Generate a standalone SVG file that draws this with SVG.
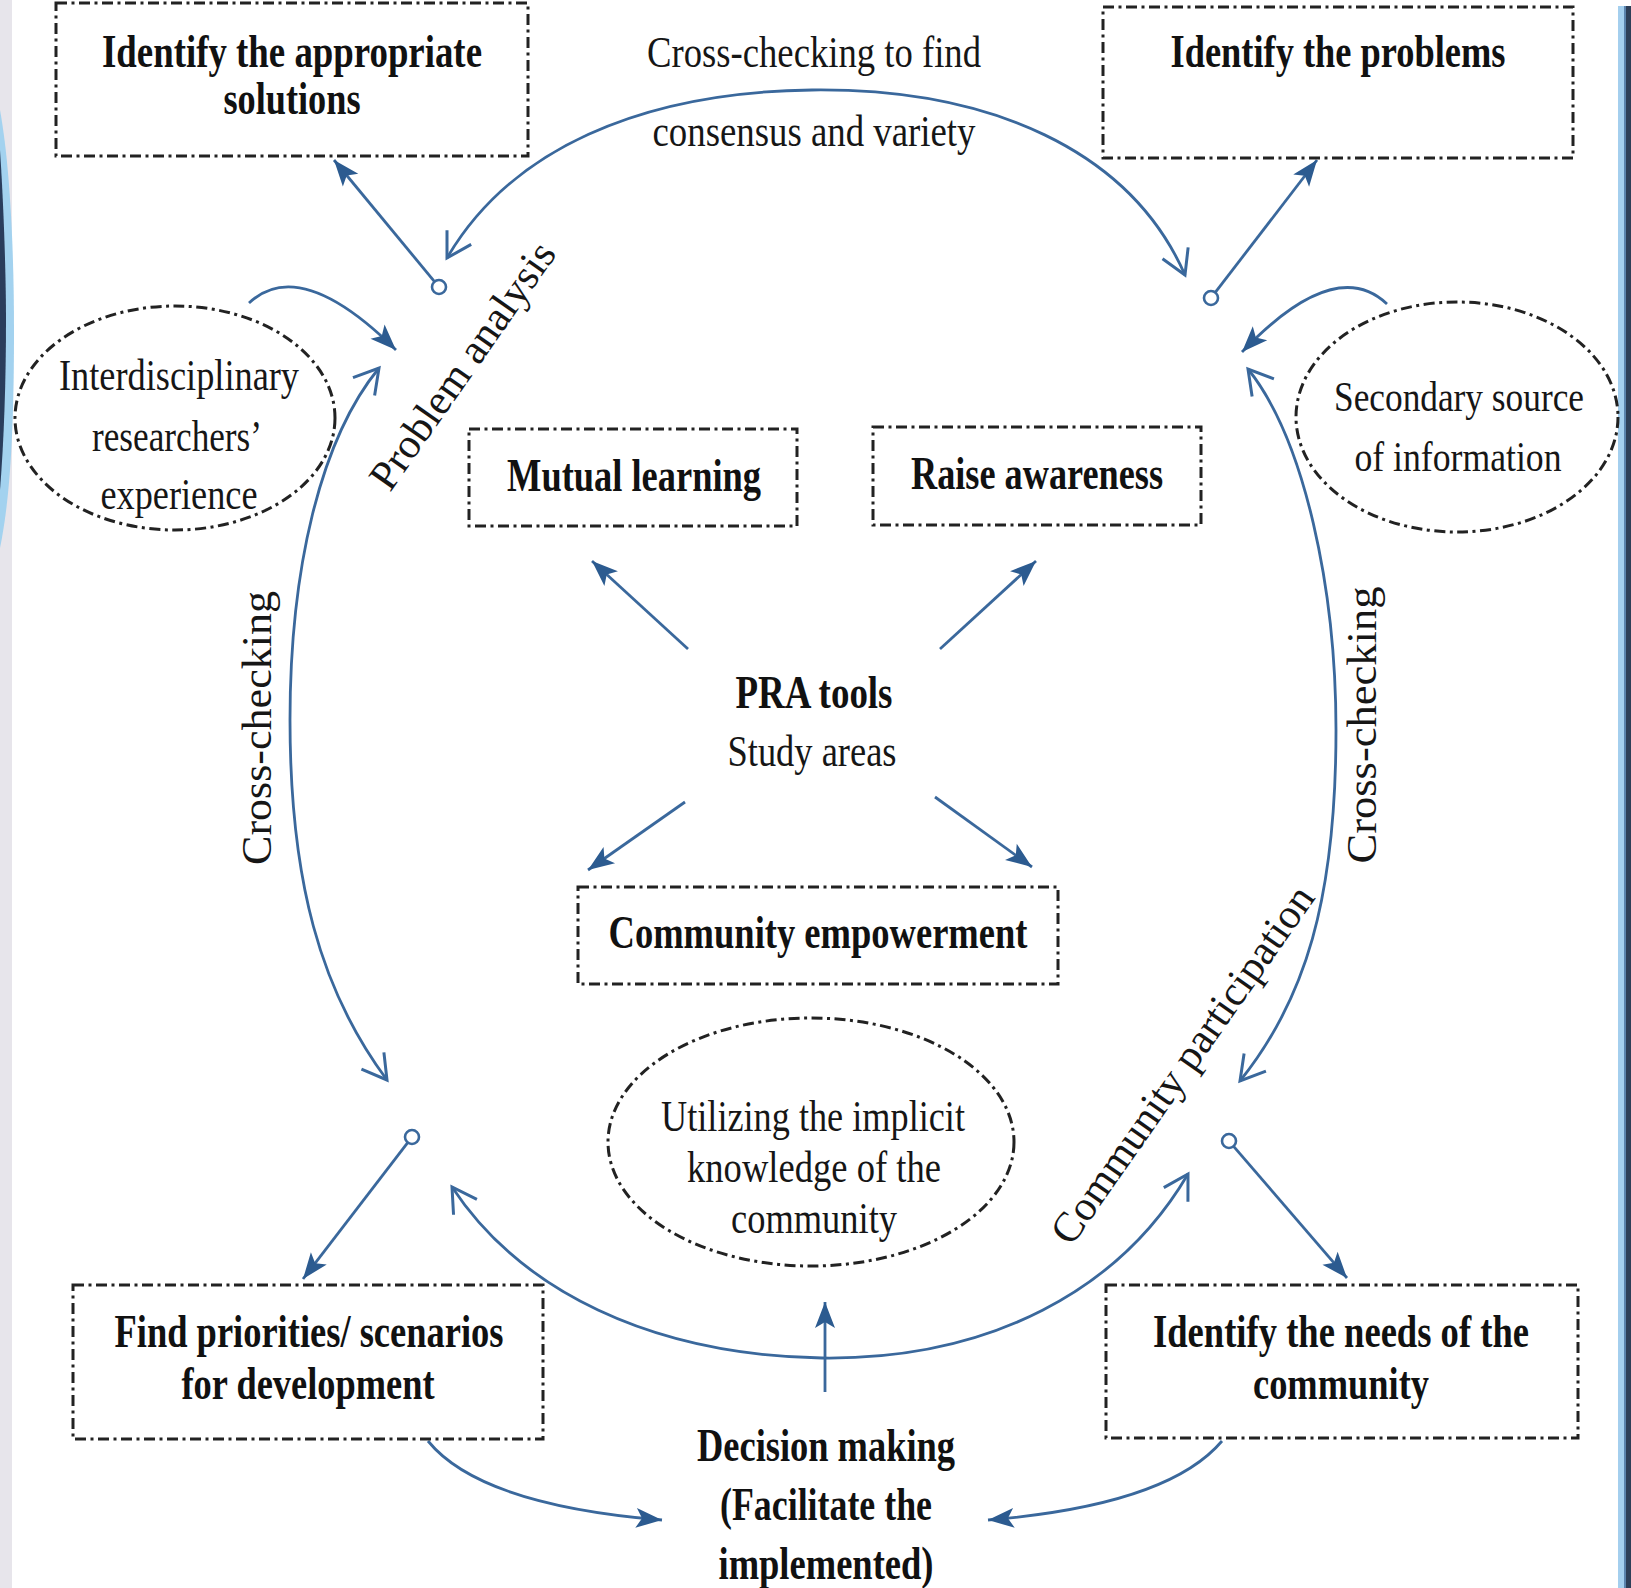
<svg xmlns="http://www.w3.org/2000/svg" width="1631" height="1588" viewBox="0 0 1631 1588">
<defs>
<style>
.box{fill:none;stroke:#222;stroke-width:3;stroke-dasharray:11 4.5 3 4.5}
.b{font-family:"Liberation Serif","Times New Roman",serif;font-weight:bold;font-size:46px;fill:#111;text-anchor:middle}
.r{font-family:"Liberation Serif","Times New Roman",serif;font-size:44px;fill:#161616;text-anchor:middle}
.rs{font-family:"Liberation Serif","Times New Roman",serif;font-size:42px;fill:#161616;text-anchor:middle}
.rl{font-family:"Liberation Serif","Times New Roman",serif;font-size:42px;fill:#161616;text-anchor:middle}
.arc{fill:none;stroke:#3a689c;stroke-width:2.8;marker-start:url(#open);marker-end:url(#open)}
.ln{fill:none;stroke:#3a689c;stroke-width:2.8;marker-end:url(#solid)}
.dot{fill:#fff;stroke:#3a689c;stroke-width:2.6}
</style>
<marker id="open" markerUnits="userSpaceOnUse" markerWidth="40" markerHeight="40" viewBox="-30 -20 40 40" refX="0" refY="0" orient="auto-start-reverse">
<path d="M-24,-14 L0,0 L-24,14" fill="none" stroke="#3a689c" stroke-width="3"/>
</marker>
<marker id="solid" markerUnits="userSpaceOnUse" markerWidth="40" markerHeight="40" viewBox="-30 -20 40 40" refX="0" refY="0" orient="auto">
<path d="M0,0 L-26,-10 L-20,0 L-26,10 Z" fill="#2c5b90"/>
</marker>
</defs>
<rect width="1631" height="1588" fill="#fff"/>
<g id="frame">
<rect x="0" y="0" width="12" height="1588" fill="#e7e5eb"/>
<path d="M0,110 C10,165 14,250 14,330 C14,420 11,495 0,548 Z" fill="#a3d2ef"/>
<path d="M0,150 C4,210 6,280 6,320 C6,380 4,440 0,490 Z" fill="#2a3d5c"/>
<rect x="1618" y="6" width="6" height="1582" fill="#a4cfee"/>
<rect x="1624" y="6" width="2" height="1582" fill="#5b84ad"/>
<rect x="1626" y="6" width="5" height="1582" fill="#2d3f58"/>
</g>
<g id="connectors">
<path class="arc" d="M447,258 C510,150 640,92 812,90 C990,88 1130,150 1185,275"/>
<path class="arc" d="M379,368 C320,440 290,570 290,720 C290,880 320,990 387,1080"/>
<path class="arc" d="M1248,369 C1305,440 1336,590 1336,730 C1336,900 1305,1000 1240,1081"/>
<path class="arc" d="M452,1187 C520,1290 650,1355 822,1358 C990,1360 1120,1290 1188,1174"/>
<line class="ln" x1="434.5" y1="281.6" x2="334" y2="160"/>
<line class="ln" x1="1215.3" y1="292.4" x2="1317" y2="160"/>
<line class="ln" x1="407.7" y1="1142.6" x2="303" y2="1279"/>
<line class="ln" x1="1233.6" y1="1146.3" x2="1347" y2="1278"/>
<path class="ln" d="M249,303 Q300,255 396,350"/>
<path class="ln" d="M1387,304 Q1335,255 1242,352"/>
<line class="ln" x1="688" y1="649" x2="592" y2="561"/>
<line class="ln" x1="940" y1="649" x2="1036" y2="561"/>
<line class="ln" x1="685" y1="802" x2="588" y2="870"/>
<line class="ln" x1="935" y1="797" x2="1032" y2="867"/>
<line class="ln" x1="825" y1="1392" x2="825" y2="1302"/>
<path class="ln" d="M428,1441 Q480,1505 662,1520"/>
<path class="ln" d="M1222,1441 Q1168,1505 988,1520"/>
<circle class="dot" cx="439" cy="287" r="7"/>
<circle class="dot" cx="1211" cy="298" r="7"/>
<circle class="dot" cx="412" cy="1137" r="7"/>
<circle class="dot" cx="1229" cy="1141" r="7"/>
</g>
<g id="label-top">
<text class="r" x="814" y="67" textLength="334" lengthAdjust="spacingAndGlyphs">Cross-checking to find</text>
<text class="r" x="814" y="146" textLength="323" lengthAdjust="spacingAndGlyphs">consensus and variety</text>
</g>
<g id="label-problem-analysis">
<text class="rl" transform="translate(463,366) rotate(-55)" y="13" textLength="292" lengthAdjust="spacingAndGlyphs">Problem analysis</text>
</g>
<g id="label-community-participation">
<text class="rl" transform="translate(1183,1065) rotate(-55)" y="13" textLength="427" lengthAdjust="spacingAndGlyphs">Community participation</text>
</g>
<g id="label-cross-left">
<text class="rl" transform="translate(258,728) rotate(-90)" y="13" textLength="274" lengthAdjust="spacingAndGlyphs">Cross-checking</text>
</g>
<g id="label-cross-right">
<text class="rl" transform="translate(1363,725) rotate(-90)" y="13" textLength="277" lengthAdjust="spacingAndGlyphs">Cross-checking</text>
</g>
<g id="node-solutions">
<rect class="box" x="56" y="3" width="472" height="153"/>
<text class="b" x="292" y="67" textLength="380" lengthAdjust="spacingAndGlyphs">Identify the appropriate</text>
<text class="b" x="292" y="114" textLength="137" lengthAdjust="spacingAndGlyphs">solutions</text>
</g>
<g id="node-problems">
<rect class="box" x="1103" y="7" width="470" height="151"/>
<text class="b" x="1338" y="67" textLength="335" lengthAdjust="spacingAndGlyphs">Identify the problems</text>
</g>
<g id="node-interdisciplinary">
<ellipse class="box" cx="175" cy="418" rx="160" ry="112"/>
<text class="r" x="179" y="390" textLength="240" lengthAdjust="spacingAndGlyphs">Interdisciplinary</text>
<text class="r" x="177" y="451" textLength="170" lengthAdjust="spacingAndGlyphs">researchers’</text>
<text class="r" x="179" y="509" textLength="157" lengthAdjust="spacingAndGlyphs">experience</text>
</g>
<g id="node-secondary">
<ellipse class="box" cx="1457" cy="417" rx="161" ry="115"/>
<text class="rs" x="1459" y="411" textLength="250" lengthAdjust="spacingAndGlyphs">Secondary source</text>
<text class="rs" x="1458" y="471" textLength="207" lengthAdjust="spacingAndGlyphs">of information</text>
</g>
<g id="node-mutual">
<rect class="box" x="469" y="429" width="328" height="97"/>
<text class="b" x="634" y="491" textLength="254" lengthAdjust="spacingAndGlyphs">Mutual learning</text>
</g>
<g id="node-raise">
<rect class="box" x="873" y="427" width="328" height="98"/>
<text class="b" x="1037" y="489" textLength="252" lengthAdjust="spacingAndGlyphs">Raise awareness</text>
</g>
<g id="node-pra">
<text class="b" x="814" y="708" textLength="157" lengthAdjust="spacingAndGlyphs">PRA tools</text>
<text class="r" x="812" y="766" textLength="169" lengthAdjust="spacingAndGlyphs">Study areas</text>
</g>
<g id="node-empowerment">
<rect class="box" x="578" y="887" width="480" height="97"/>
<text class="b" x="818" y="948" textLength="419" lengthAdjust="spacingAndGlyphs">Community empowerment</text>
</g>
<g id="node-implicit">
<ellipse class="box" cx="811" cy="1142" rx="203" ry="124"/>
<text class="r" x="813" y="1131" textLength="304" lengthAdjust="spacingAndGlyphs">Utilizing the implicit</text>
<text class="r" x="814" y="1182" textLength="254" lengthAdjust="spacingAndGlyphs">knowledge of the</text>
<text class="r" x="814" y="1233" textLength="166" lengthAdjust="spacingAndGlyphs">community</text>
</g>
<g id="node-priorities">
<rect class="box" x="73" y="1285" width="470" height="154"/>
<text class="b" x="309" y="1347" textLength="389" lengthAdjust="spacingAndGlyphs">Find priorities/ scenarios</text>
<text class="b" x="308" y="1399" textLength="253" lengthAdjust="spacingAndGlyphs">for development</text>
</g>
<g id="node-needs">
<rect class="box" x="1106" y="1285" width="472" height="153"/>
<text class="b" x="1341" y="1347" textLength="376" lengthAdjust="spacingAndGlyphs">Identify the needs of the</text>
<text class="b" x="1341" y="1399" textLength="176" lengthAdjust="spacingAndGlyphs">community</text>
</g>
<g id="node-decision">
<text class="b" x="826" y="1461" textLength="258" lengthAdjust="spacingAndGlyphs">Decision making</text>
<text class="b" x="826" y="1520" textLength="212" lengthAdjust="spacingAndGlyphs">(Facilitate the</text>
<text class="b" x="826" y="1579" textLength="215" lengthAdjust="spacingAndGlyphs">implemented)</text>
</g>
</svg>
